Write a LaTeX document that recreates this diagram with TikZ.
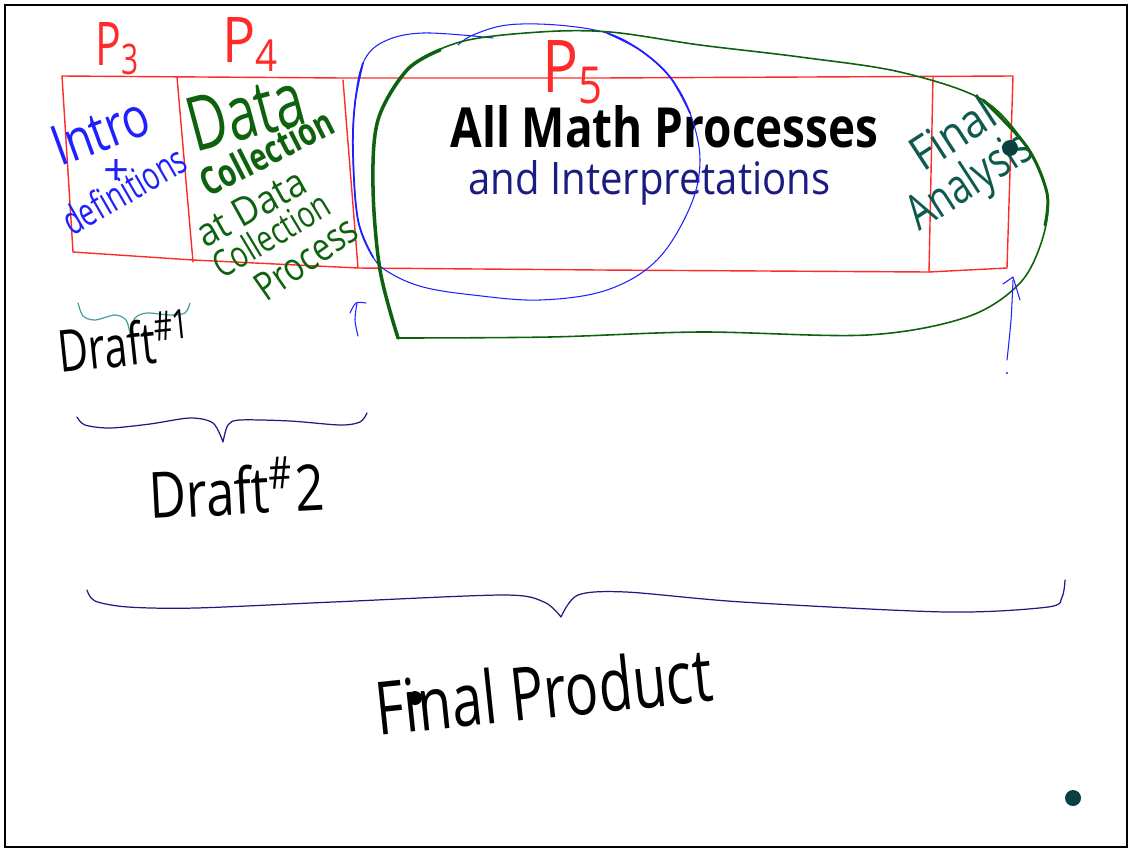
\documentclass[tikz,border=0pt]{standalone}
\usepackage{fontspec}
\usepackage{graphicx}
\setmainfont{Open Sans}
\newlength\pxu
\setlength\pxu{0.02cm}
\newcommand\hw[3]{\resizebox{#1\pxu}{#2\pxu}{#3}}
\definecolor{redline}{HTML}{FF2A2A}
\definecolor{penblue}{HTML}{2020FF}
\definecolor{navy}{HTML}{1C1C80}
\definecolor{pengreen}{HTML}{0E620E}
\definecolor{tealtxt}{HTML}{0F5A50}
\definecolor{tealbrace}{HTML}{4A9D9D}
\definecolor{dotteal}{HTML}{0A4040}
\begin{document}
\begin{tikzpicture}[x=0.02cm,y=-0.02cm,
  txt/.style={inner sep=0pt,anchor=base west},
  redpen/.style={draw=redline,line width=0.8pt,line cap=round,line join=round},
  bluepen/.style={draw=penblue,line width=0.6pt,line cap=round,line join=round},
  greenpen/.style={draw=pengreen,line width=0.9pt,line cap=round,line join=round},
  bracepen/.style={draw=navy,line width=0.7pt,line cap=round,line join=round},
  dotstyle/.style={circle,inner sep=0pt,minimum size=#1}]
\useasboundingbox (0,0) rectangle (1129,849);
\draw[line width=1.2pt] (5,5) rectangle (1127,847);

% red table
\draw[redpen] (62,76) -- (343,78) -- (600,78) -- (1013,76) -- (1007,268) -- (929,272) -- (600,270) -- (358,268) -- (193,260) -- (73,252) -- cycle;
\draw[redpen] (177,77) -- (193,262);
\draw[redpen] (343,80) -- (358,268);
\draw[redpen] (933,77) -- (929,272);

% P labels
\node[txt,text=redline] (p3) at (95,65) {\hw{45}{43}{P\textsubscript{3}}};
\node[txt,text=redline] (p4) at (222,62) {\hw{58}{45}{P\textsubscript{4}}};
\node[txt,text=redline] (p5) at (542,92) {\hw{63}{52}{P\textsubscript{5}}};

% column 1
\node[txt,text=penblue,rotate=20] (intro) at (60,167) {\hw{100}{40}{Intro}};
\node[text=penblue,inner sep=0pt] (plus) at (116,172) {\hw{26}{26}{+}};
\node[txt,text=penblue,rotate=30] (defs) at (72,237) {\hw{136}{30}{definitions}};

% column 2
\node[txt,text=pengreen,rotate=15] (data) at (195,153) {\hw{118}{54}{Data}};
\node[txt,text=pengreen,rotate=27] (coll) at (208,198) {\hw{145}{29}{\bfseries Collection}};
\node[txt,text=pengreen,rotate=29] (atdata) at (205,249) {\hw{120}{28}{at Data}};
\node[txt,text=pengreen,rotate=31] (coll2) at (222,280) {\hw{130}{28}{Collection}};
\node[txt,text=pengreen,rotate=35] (proc) at (266,303) {\hw{116}{28}{Process}};

% column 3
\node[txt] (allmath) at (450,147) {\hw{428}{42}{\bfseries All Math Processes}};
\node[txt,text=navy] (interp) at (468,194) {\hw{362}{34}{and Interpretations}};

% column 4
\node[txt,text=tealtxt,rotate=33] (final) at (923,173) {\hw{92}{36}{Final}};
\node[txt,text=tealtxt,rotate=33] (analysis) at (919,232) {\hw{140}{37}{Analysis}};

% blue loop
\draw[bluepen] plot[smooth,tension=0.6] coordinates {(493,38) (423,33) (383,42) (363,63) (355,103) (353,153) (358,220) (373,257) (390,273) (423,287) (473,295) (540,300) (607,290) (657,260) (690,207) (700,160) (690,113) (670,77) (640,50) (607,33) (557,25) (507,25) (473,35) (458,45)};
\draw[bluepen,line width=1pt] plot[smooth,tension=0.6] coordinates {(363,63) (355,103) (353,153) (358,220) (373,257)};
\draw[bluepen,line width=1pt] plot[smooth,tension=0.6] coordinates {(607,33) (640,50) (670,77) (690,113)};

% green loop
\draw[greenpen] plot[smooth,tension=0.55] coordinates {(398,338) (380,270) (373,187) (378,120) (407,70) (460,42) (540,32) (610,32) (700,45) (800,57) (900,72) (983,100) (1027,147) (1047,193) (1043,237) (1020,283) (967,317) (867,335) (700,332) (550,337) (398,338)};
\draw[greenpen,line width=2pt] plot[smooth,tension=0.55] coordinates {(398,338) (380,270) (373,187) (378,120) (407,70) (440,50)};
\draw[greenpen,line width=1.7pt] plot[smooth,tension=0.55] coordinates {(983,100) (1027,147) (1047,193) (1045,225)};

% small blue marks
\draw[bluepen] plot[smooth] coordinates {(350,313) (356,303) (366,303)};
\draw[bluepen] plot[smooth] coordinates {(357,303) (355,320) (358,336)};
\draw[bluepen] plot[smooth] coordinates {(1007,360) (1011,320) (1013,280)};
\draw[bluepen] (1003,284) -- (1013,277) -- (1020,300);
\node[dotstyle=1.2pt,fill=penblue] (tinydot) at (1007,373) {};

% braces
\draw[draw=tealbrace,line width=0.7pt,line cap=round] plot[smooth] coordinates {(78,303) (83,316) (95,320) (115,315) (126,320) (130,333)}
  plot[smooth] coordinates {(130,333) (135,318) (147,313) (170,315) (185,313) (190,303)};
\draw[bracepen] plot[smooth] coordinates {(77,417) (85,425) (110,428) (150,424) (190,418) (213,423) (223,442)}
  plot[smooth] coordinates {(223,442) (228,425) (240,420) (290,421) (340,425) (360,422) (367,413)};
\draw[bracepen] plot[smooth] coordinates {(87,590) (95,601) (128,607) (196,608) (333,602) (503,595) (544,602) (561,617)}
  plot[smooth] coordinates {(561,617) (578,595) (626,592) (742,602) (946,612) (1048,607) (1062,597) (1065,580)};

% draft labels
\node[txt,rotate=6] (draft1) at (60,373) {\hw{135}{50}{Draft\textsuperscript{\#1}}};
\node[txt,rotate=3] (draft2) at (150,519) {\hw{175}{55}{Draft\textsuperscript{\#}2}};
\node[txt,rotate=6] (finalprod) at (378,736) {\hw{338}{56}{Final Product}};

% dots
\node[dotstyle=16\pxu,fill=dotteal] (dot1) at (1010,148) {};
\node[dotstyle=16\pxu,fill=dotteal] (dot2) at (1073,798) {};
\node[dotstyle=14\pxu,fill=black] (dot3) at (415,698) {};
\end{tikzpicture}
\end{document}
